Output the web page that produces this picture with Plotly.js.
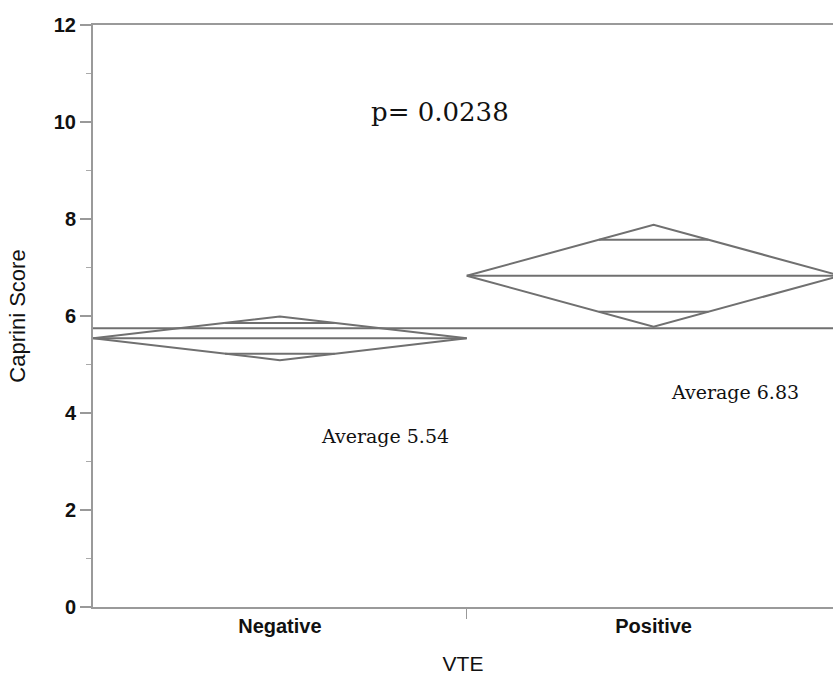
<!DOCTYPE html>
<html>
<head>
<meta charset="utf-8">
<script src="https://cdn.plot.ly/plotly-3.0.1.min.js"></script>
<style>html,body{margin:0;padding:0;background:#fff;overflow:hidden}#chart{width:833px;height:682px}</style>
</head>
<body>
<div id="chart"></div>
<script>
// Data (means diamonds, JMP style)
var categories = ["Negative", "Positive"];
var groupMeans = [5.54, 6.83];
var ciLower = [5.09, 5.78];
var ciUpper = [5.99, 7.88];
var grandMean = 5.75;
var pValueText = "p= 0.0238";
var averageLabels = ["Average 5.54", "Average 6.83"];

var lineColor = "#707070";
var traces = [];

// grand mean line across both groups
traces.push({
  x: [0, categories.length], y: [grandMean, grandMean],
  mode: "lines", line: {color: lineColor, width: 2}, hoverinfo: "skip", showlegend: false
});

categories.forEach(function (c, i) {
  var m = groupMeans[i], lo = ciLower[i], hi = ciUpper[i];
  traces.push({
    x: [i, i + 0.5, i + 1, i + 0.5, i],
    y: [m, hi, m, lo, m],
    mode: "lines", line: {color: lineColor, width: 2}, hoverinfo: "skip", showlegend: false
  });
  traces.push({
    x: [i, i + 1], y: [m, m],
    mode: "lines", line: {color: lineColor, width: 2}, hoverinfo: "skip", showlegend: false
  });
  var halfU = (hi - m) / Math.SQRT2, halfL = (m - lo) / Math.SQRT2;
  var fu = 1 - halfU / (hi - m), fl = 1 - halfL / (m - lo);
  traces.push({
    x: [i + 0.5 - 0.5 * fu, i + 0.5 + 0.5 * fu], y: [m + halfU, m + halfU],
    mode: "lines", line: {color: lineColor, width: 2}, hoverinfo: "skip", showlegend: false
  });
  traces.push({
    x: [i + 0.5 - 0.5 * fl, i + 0.5 + 0.5 * fl], y: [m - halfL, m - halfL],
    mode: "lines", line: {color: lineColor, width: 2}, hoverinfo: "skip", showlegend: false
  });
});

var serif = "DejaVu Serif, serif";
var sans = "Liberation Sans, Arial, sans-serif";
var layout = {
  width: 833, height: 682,
  margin: {l: 93, r: 0, t: 25, b: 75},
  paper_bgcolor: "#fff", plot_bgcolor: "#fff",
  showlegend: false,
  font: {family: sans, size: 19, color: "#111"},
  xaxis: {
    range: [0, 1.98],
    tickmode: "array", tickvals: [0.5, 1.5], ticktext: categories,
    ticks: "", showgrid: false, zeroline: false,
    showline: true, linecolor: "#9a9a9a", linewidth: 2, mirror: true,
    minor: {tickmode: "array", tickvals: [1], ticks: "outside", ticklen: 10, tickcolor: "#999", showgrid: false},
    tickfont: {size: 20, weight: "bold", family: sans},
    title: {text: "VTE", font: {size: 21, family: sans}, standoff: 20}
  },
  yaxis: {
    range: [0, 12], dtick: 2, tick0: 0,
    ticks: "outside", ticklen: 11, tickcolor: "#999", tickwidth: 1.5,
    minor: {dtick: 1, ticks: "outside", ticklen: 5, tickcolor: "#aaa", showgrid: false},
    showgrid: false, zeroline: false,
    showline: true, linecolor: "#9a9a9a", linewidth: 2,
    tickfont: {size: 20, weight: "bold", family: sans},
    ticklabelstandoff: 0,
    title: {text: "Caprini Score", font: {size: 22, family: sans}, standoff: 22}
  },
  annotations: [
    {x: 0.928, y: 10.2, xref: "x", yref: "y", text: pValueText, showarrow: false,
     font: {family: serif, size: 26, color: "#111"}},
    {x: 0.78, y: 3.53, xref: "x", yref: "y", text: averageLabels[0], showarrow: false,
     font: {family: serif, size: 19, color: "#111"}},
    {x: 1.717, y: 4.43, xref: "x", yref: "y", text: averageLabels[1], showarrow: false,
     font: {family: serif, size: 19, color: "#111"}}
  ]
};

Plotly.newPlot("chart", traces, layout, {staticPlot: true, displayModeBar: false});
</script>
</body>
</html>
